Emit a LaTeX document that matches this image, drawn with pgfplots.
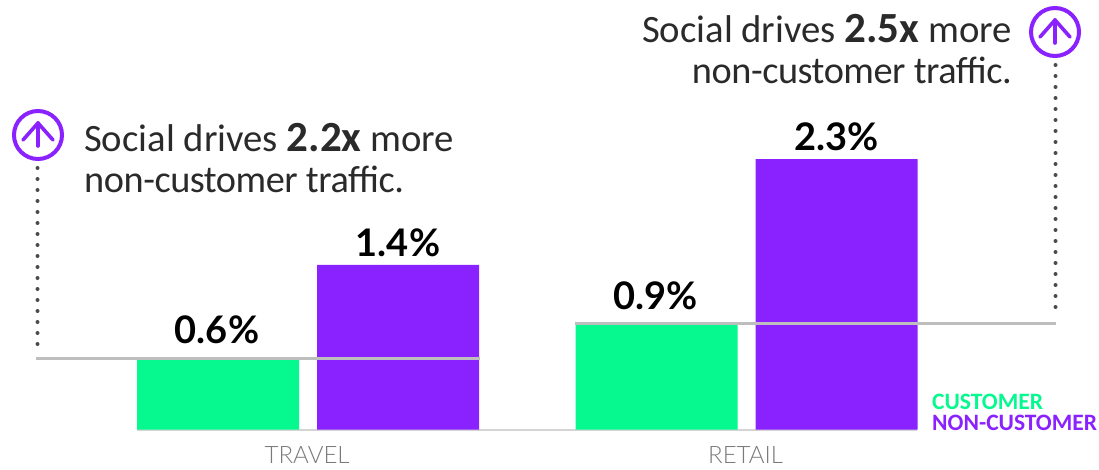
\documentclass[border=0pt]{standalone}
\usepackage{pgfplots}
\pgfplotsset{compat=1.18}
\usepackage{fontspec}
\setmainfont{Lato}
\newfontfamily\lightfont{Lato Light}
\newfontfamily\callfont{Carlito}
\newfontfamily\tightfont[LetterSpace=-1.2]{Carlito}
\definecolor{custgreen}{HTML}{06F98F}
\definecolor{noncust}{HTML}{8A22FF}
\definecolor{refgray}{HTML}{BEBEBE}
\definecolor{basegray}{HTML}{D4D4D4}
\definecolor{labelgray}{HTML}{7A7A7A}
\definecolor{ink}{HTML}{2A2A2A}
\definecolor{dots}{HTML}{4A4A4A}
\newcommand{\callout}[1]{\fontsize{38.7}{41}\selectfont\callfont #1}
\newcommand{\calloutb}[1]{\fontsize{38.3}{41}\selectfont\tightfont #1}
\newcommand{\factor}[1]{{\fontsize{43}{41}\selectfont\callfont\bfseries #1}}
\pgfplotstableread{
x  y   nudge
0  0.6 12
1  0.9 10
}\customer
\pgfplotstableread{
x  y   nudge
0  1.4 5
1  2.3 5
}\noncustomer
\begin{document}
\begin{tikzpicture}
\path[use as bounding box] (0,0) rectangle (1099pt,469pt);
\begin{axis}[
  at={(137pt,39.5pt)}, anchor=south west,
  scale only axis, width=780pt, height=429.5pt,
  xmin=-0.39, xmax=1.3888, ymin=0, ymax=3.655,
  clip=false,
  axis y line=none, axis x line=bottom,
  axis line style={basegray, line width=2pt, -},
  xtick={-0.002,0.998}, xticklabels={TRAVEL,RETAIL},
  major tick length=0pt,
  xticklabel style={font=\fontsize{24}{24}\selectfont\lightfont, text=labelgray, anchor=base, yshift=-34pt},
  /pgf/number format/assume math mode=true,
  value label/.style={
    visualization depends on={\thisrow{nudge} \as \nudge},
    nodes near coords={\pgfmathprintnumber[fixed,precision=1,fixed zerofill,assume math mode=true]{\pgfplotspointmeta}\%},
    nodes near coords style={font=\fontsize{38}{38}\selectfont\bfseries, text=black, anchor=south, xshift=#1, yshift=\nudge pt},
  },
]
\addplot[ybar, bar width=162pt, bar shift=-90pt, fill=custgreen, draw=none, value label=-91pt] table[x=x,y=y] {\customer};
\addplot[ybar, bar width=162pt, bar shift=90pt, fill=noncust, draw=none, value label=90pt] table[x=x,y=y] {\noncustomer};
% reference lines at each customer level, carried out to the callouts
\addplot[refgray, line width=3pt, sharp plot, no markers] coordinates {(-0.6203,0.6) (0.392,0.6)};
\addplot[refgray, line width=3pt, sharp plot, no markers] coordinates {(0.609,0.9) (1.705,0.9)};
\end{axis}
\begin{scope}[x=1pt,y=-1pt,yshift=469pt]
  \draw[dots, line width=4pt, line cap=round, dash pattern=on 0pt off 11pt] (37.5,168) -- (37.5,350);
  \draw[dots, line width=4pt, line cap=round, dash pattern=on 0pt off 11pt] (1055.5,65) -- (1055.5,316);
  \foreach \cx/\cy in {38/135,1055/32}{
    \draw[noncust, line width=4pt] (\cx,\cy) circle (24);
    \draw[noncust, line width=3.6pt, line cap=round, line join=round]
      (\cx,\cy+11) -- (\cx,\cy-12);
    \draw[noncust, line width=3.6pt, line cap=round, line join=round]
      (\cx-15,\cy+5) -- (\cx,\cy-12) -- (\cx+15,\cy+5);
  }
  \node[anchor=base west, inner sep=0, text=ink] at (84,152) {\callout{Social drives \factor{2.2x} more}};
  \node[anchor=base west, inner sep=0, text=ink] at (84,193) {\calloutb{non-customer traffic.}};
  \node[anchor=base east, inner sep=0, text=ink] at (1012,43) {\callout{Social drives \factor{2.5x} more}};
  \node[anchor=base east, inner sep=0, text=ink] at (1012,84) {\calloutb{non-customer traffic.}};
  \node[anchor=base west, inner sep=0, text=custgreen, font=\fontsize{23.5}{23.5}\selectfont\callfont\bfseries] at (932,409) {CUSTOMER};
  \node[anchor=base west, inner sep=0, text=noncust, font=\fontsize{23.5}{23.5}\selectfont\callfont\bfseries] at (932,430) {NON-CUSTOMER};
\end{scope}
\end{tikzpicture}
\end{document}
